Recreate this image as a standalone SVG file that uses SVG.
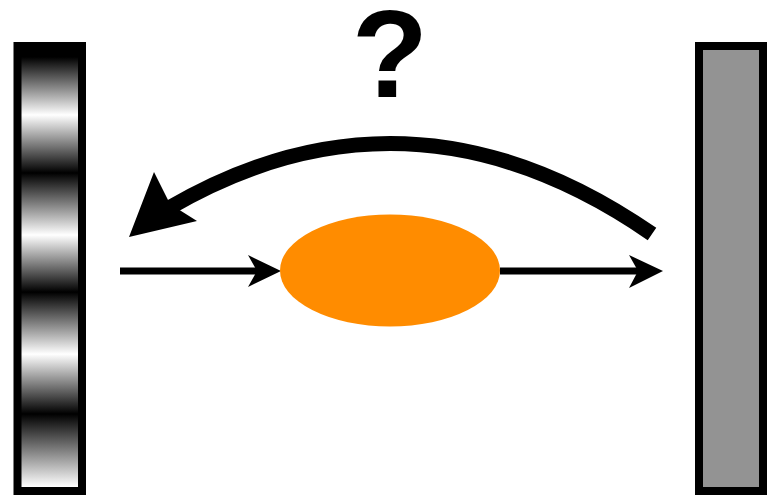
<svg xmlns="http://www.w3.org/2000/svg" width="769" height="497" viewBox="0 0 769 497">
  <style>
    .bar { stroke: #000; stroke-width: 8; }
    .shaft { fill: none; stroke: #000; }
    .head { fill: #000; stroke: none; }
    .q { font-family: "Liberation Sans", Arial, sans-serif; font-weight: bold; font-size: 125px; fill: #000; }
  </style>
  <defs>
    <linearGradient id="fringes" gradientUnits="userSpaceOnUse" x1="0" y1="42" x2="0" y2="495">
      <stop offset="0" stop-color="#000"/>
      <stop offset="0.033" stop-color="#000"/>
      <stop offset="0.161" stop-color="#fff"/>
      <stop offset="0.289" stop-color="#000"/>
      <stop offset="0.426" stop-color="#fff"/>
      <stop offset="0.552" stop-color="#000"/>
      <stop offset="0.689" stop-color="#fff"/>
      <stop offset="0.821" stop-color="#000"/>
      <stop offset="0.982" stop-color="#fff"/>
      <stop offset="1" stop-color="#fff"/>
    </linearGradient>
  </defs>
  <rect width="769" height="497" fill="#fff"/>

  <g id="screen">
    <rect class="bar" x="17.5" y="46" width="64.5" height="445" fill="url(#fringes)"/>
  </g>

  <g id="mirror">
    <rect class="bar" x="699" y="46" width="64" height="445" fill="#939393"/>
  </g>

  <g id="question">
    <text class="q" x="390" y="97" text-anchor="middle">?</text>
  </g>

  <g id="connectors">
    <path class="shaft" stroke-width="7" d="M120,271 H258"/>
    <polygon class="head" points="281,271 248,255 257,271 248,287"/>
    <path class="shaft" stroke-width="7" d="M500,271 H639"/>
    <polygon class="head" points="663,271 629,255 638,271 629,288"/>
    <path class="shaft" stroke-width="15" d="M652,234 Q410,66.8 168,208.5"/>
    <polygon class="head" points="129,237 154,172 170,204 197,221"/>
  </g>

  <g id="particle">
    <ellipse cx="390" cy="270.5" rx="110" ry="56" fill="#ff8c00"/>
  </g>
</svg>
